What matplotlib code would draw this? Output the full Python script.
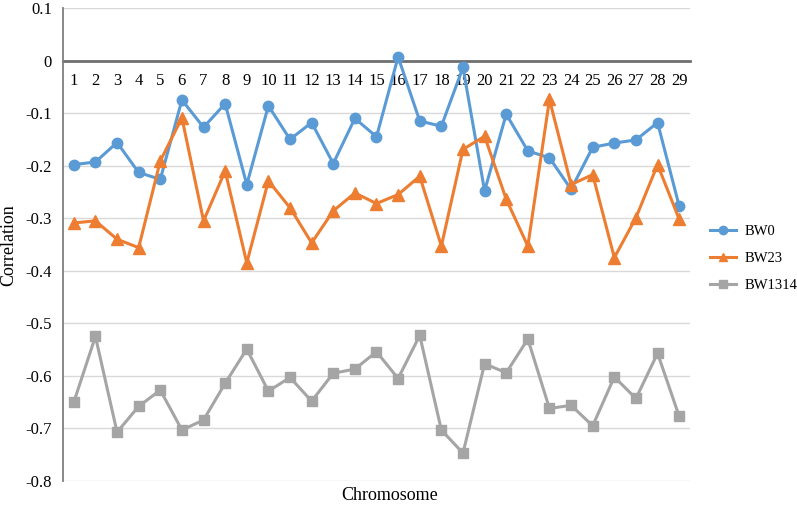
import matplotlib
matplotlib.use("Agg")
import matplotlib.pyplot as plt

chromosomes = list(range(1, 30))
bw0 = [-0.198, -0.193, -0.156, -0.213, -0.226, -0.075, -0.127, -0.082, -0.236, -0.086,
       -0.150, -0.118, -0.196, -0.110, -0.145, 0.007, -0.115, -0.125, -0.013, -0.248,
       -0.102, -0.172, -0.185, -0.245, -0.165, -0.157, -0.151, -0.118, -0.277]
bw23 = [-0.309, -0.305, -0.340, -0.356, -0.191, -0.109, -0.305, -0.210, -0.385, -0.229,
        -0.280, -0.347, -0.286, -0.252, -0.272, -0.255, -0.220, -0.353, -0.169, -0.144,
        -0.264, -0.353, -0.074, -0.236, -0.217, -0.375, -0.299, -0.198, -0.302]
bw1314 = [-0.650, -0.525, -0.707, -0.658, -0.627, -0.703, -0.684, -0.614, -0.549, -0.629,
          -0.603, -0.648, -0.595, -0.587, -0.554, -0.605, -0.523, -0.703, -0.747, -0.577,
          -0.594, -0.530, -0.662, -0.656, -0.695, -0.602, -0.643, -0.557, -0.677]
yticks = [0.1, 0, -0.1, -0.2, -0.3, -0.4, -0.5, -0.6, -0.7, -0.8]
ytick_labels = ["0.1", "0", "-0.1", "-0.2", "-0.3", "-0.4", "-0.5", "-0.6", "-0.7", "-0.8"]

plt.rcParams['font.family'] = ['Liberation Serif', 'DejaVu Serif']

fig = plt.figure(figsize=(7.97, 5.08), dpi=100)
W, H = 797, 508
ax = fig.add_axes([63 / W, 1 - 481 / H, (690 - 63) / W, (481 - 8) / H])

ax.set_xlim(0.5, 29.5)
ax.set_ylim(-0.8, 0.1)

for y in yticks:
    if y != 0:
        ax.axhline(y, color="#d9d9d9", lw=1.0, zorder=0)

ax.plot(chromosomes, bw0, color="#5b9bd5", lw=2.2, marker="o", markersize=7.5, label="BW0", zorder=3)
ax.plot(chromosomes, bw23, color="#ed7d31", lw=2.2, marker="^", markersize=8, label="BW23", zorder=3)
ax.plot(chromosomes, bw1314, color="#a5a5a5", lw=2.2, marker="s", markersize=6.5, label="BW1314", zorder=3)

ax.spines['top'].set_visible(False)
ax.spines['right'].set_visible(False)
ax.spines['left'].set_color("#7f7f7f")
ax.spines['left'].set_linewidth(1.3)
ax.spines['bottom'].set_position(('data', 0))
ax.spines['bottom'].set_color("#6f6f6f")
ax.spines['bottom'].set_linewidth(2.0)
ax.spines['bottom'].set_zorder(2)

ax.set_yticks(yticks)
ax.set_yticklabels(ytick_labels, fontsize=12)
ax.set_xticks(chromosomes)
ax.set_xticklabels([str(c) for c in chromosomes], fontsize=12)
ax.tick_params(axis='both', length=0)
ax.tick_params(axis='x', pad=9)
ax.tick_params(axis='y', pad=8)

fig.text(9 / W, 1 - 245 / H, "Correlation", fontsize=13, rotation=90, ha='center', va='center')
fig.text(390 / W, 1 - 495 / H, "Chromosome", fontsize=13, ha='center', va='center')

leg = ax.legend(loc='upper left', bbox_to_anchor=(710 / W, 1 - 224.5 / H), bbox_transform=fig.transFigure,
                frameon=False, fontsize=10.5, handlelength=1.78, handletextpad=0.62,
                labelspacing=0.95, borderpad=0, borderaxespad=0, markerscale=0.8)

fig.savefig("out.png", dpi=100)
